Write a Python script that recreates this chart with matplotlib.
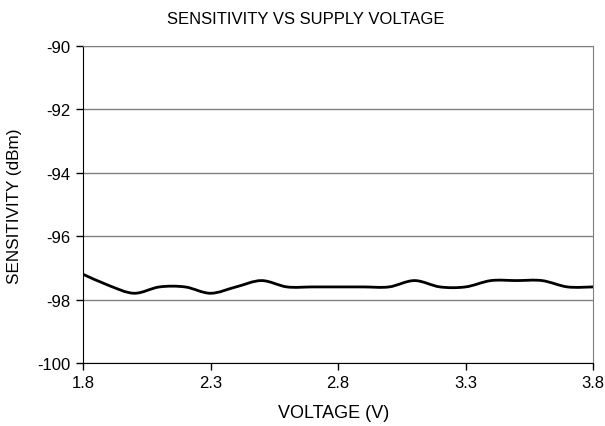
import matplotlib
matplotlib.use("Agg")
import matplotlib.pyplot as plt
from matplotlib.path import Path
from matplotlib.patches import PathPatch

voltage = [1.8, 1.9, 2.0, 2.1, 2.2, 2.3, 2.4, 2.5, 2.6, 2.7, 2.8,
           2.9, 3.0, 3.1, 3.2, 3.3, 3.4, 3.5, 3.6, 3.7, 3.8]
sensitivity = [-97.2, -97.55, -97.8, -97.6, -97.6, -97.8, -97.6, -97.4, -97.6, -97.6, -97.6,
               -97.6, -97.6, -97.4, -97.6, -97.6, -97.4, -97.4, -97.4, -97.6, -97.6]
xticks = [1.8, 2.3, 2.8, 3.3, 3.8]
yticks = [-100, -98, -96, -94, -92, -90]

plt.rcParams['font.family'] = ['Liberation Sans', 'DejaVu Sans']

W, H = 605, 427
fig = plt.figure(figsize=(W / 100, H / 100), dpi=100)
ax = fig.add_axes([83 / W, 1 - 364 / H, 510 / W, 317 / H])

# smoothed line (Excel-like cubic Bezier through data points)
n = len(voltage)
verts = [(voltage[0], sensitivity[0])]
codes = [Path.MOVETO]
t = 1.0 / 6.0
for i in range(n - 1):
    x0, y0 = voltage[max(i - 1, 0)], sensitivity[max(i - 1, 0)]
    x1, y1 = voltage[i], sensitivity[i]
    x2, y2 = voltage[i + 1], sensitivity[i + 1]
    x3, y3 = voltage[min(i + 2, n - 1)], sensitivity[min(i + 2, n - 1)]
    c1 = (x1 + (x2 - x0) * t, y1 + (y2 - y0) * t)
    c2 = (x2 - (x3 - x1) * t, y2 - (y3 - y1) * t)
    verts += [c1, c2, (x2, y2)]
    codes += [Path.CURVE4, Path.CURVE4, Path.CURVE4]
patch = PathPatch(Path(verts, codes), facecolor='none', edgecolor='black', lw=2.0,
                  transform=ax.transData, zorder=3, clip_on=True)
ax.add_patch(patch)

ax.set_xlim(1.8, 3.8)
ax.set_ylim(-100, -90)
ax.set_xticks(xticks)
ax.set_xticklabels([f"{v:.1f}" for v in xticks])
ax.set_yticks(yticks)
ax.set_yticklabels([str(v) for v in yticks])
ax.yaxis.grid(True, color='#808080', lw=1.0)
ax.set_axisbelow(True)

for s in ['top', 'right']:
    ax.spines[s].set_color('#808080')
for s in ['left', 'bottom']:
    ax.spines[s].set_color('black')
ax.tick_params(direction='out', length=5, width=1, labelsize=12, pad=4, color='black')

fig.text(305.5 / W, 1 - 19 / H, 'SENSITIVITY VS SUPPLY VOLTAGE', fontsize=12,
         ha='center', va='center')
fig.text(334 / W, 1 - 414 / H, 'VOLTAGE (V)', fontsize=13, ha='center', va='center')
fig.text(15 / W, 1 - 206 / H, 'SENSITIVITY (dBm)', fontsize=12.3, ha='center', va='center',
         rotation=90)

fig.savefig('out.png', dpi=100)
